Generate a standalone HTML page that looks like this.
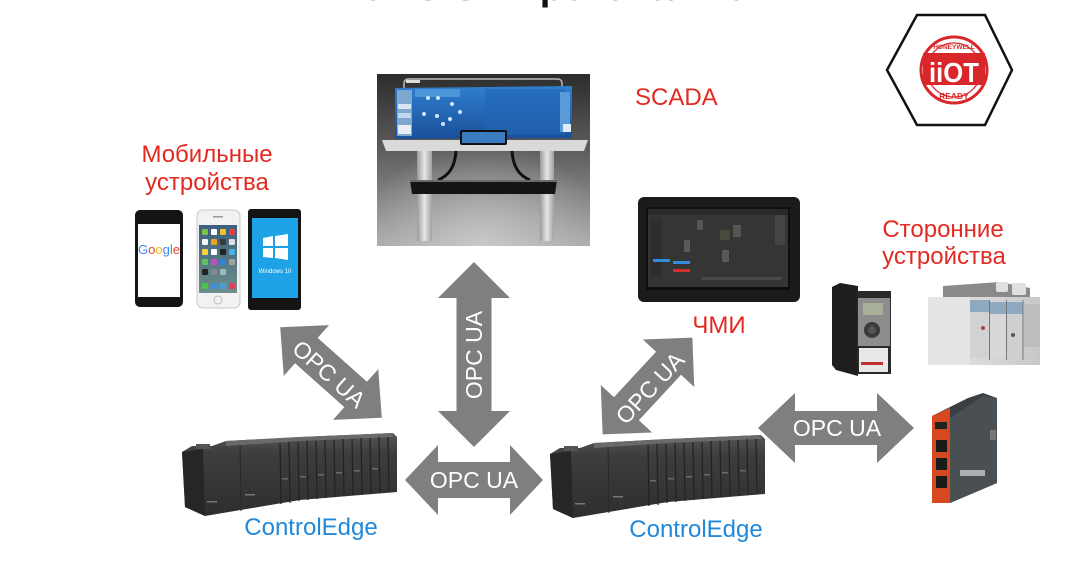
<!DOCTYPE html>
<html><head><meta charset="utf-8">
<style>
html,body{margin:0;padding:0;background:#fff;}
svg{display:block;}
text{font-family:"Liberation Sans",Arial,sans-serif;}
</style></head>
<body>
<svg width="1083" height="565" viewBox="0 0 1083 565" xmlns="http://www.w3.org/2000/svg">
<defs>
  <linearGradient id="scadaBg" x1="0" y1="0" x2="0" y2="1">
    <stop offset="0" stop-color="#2c2c2c"/>
    <stop offset="0.45" stop-color="#5e5e5e"/>
    <stop offset="1" stop-color="#a9a9a9"/>
  </linearGradient>
  <radialGradient id="scadaGlow" cx="0.5" cy="1" r="0.6">
    <stop offset="0" stop-color="#d0d0d0" stop-opacity="0.8"/>
    <stop offset="1" stop-color="#d0d0d0" stop-opacity="0"/>
  </radialGradient>
  <linearGradient id="screenBlue" x1="0" y1="0" x2="0" y2="1">
    <stop offset="0" stop-color="#2f7fcf"/>
    <stop offset="1" stop-color="#1a4f9a"/>
  </linearGradient>
  <linearGradient id="leg" x1="0" y1="0" x2="1" y2="0">
    <stop offset="0" stop-color="#9a9a9a"/>
    <stop offset="0.5" stop-color="#e6e6e6"/>
    <stop offset="1" stop-color="#a0a0a0"/>
  </linearGradient>
  <linearGradient id="ceFront" x1="0" y1="0" x2="0" y2="1">
    <stop offset="0" stop-color="#555"/>
    <stop offset="0.25" stop-color="#3d3d3d"/>
    <stop offset="1" stop-color="#2e2e2e"/>
  </linearGradient>
  <linearGradient id="iosScr" x1="0" y1="0" x2="0" y2="1">
    <stop offset="0" stop-color="#3b5f7d"/>
    <stop offset="1" stop-color="#6d8e8a"/>
  </linearGradient>
  <linearGradient id="plcBody" x1="0" y1="0" x2="1" y2="0">
    <stop offset="0" stop-color="#e8e8e8"/>
    <stop offset="1" stop-color="#c8c8c8"/>
  </linearGradient>
</defs>

<rect x="0" y="0" width="1083" height="565" fill="#fff"/>

<!-- Title (mostly cut off) -->
<text x="565" y="0" text-anchor="middle" font-size="36" font-weight="bold" fill="#111" textLength="414" lengthAdjust="spacingAndGlyphs">OPC UA протокол IIoT</text>

<!-- IIoT logo -->
<polygon points="887,70 917,15 985,15 1012,70 985,125 917,125" fill="#fff" stroke="#111" stroke-width="2.5"/>
<circle cx="954" cy="70" r="33" fill="#fff" stroke="#d9262b" stroke-width="3"/>
<circle cx="954" cy="70" r="27" fill="none" stroke="#d9262b" stroke-width="1.2"/>
<text x="954" y="49" text-anchor="middle" font-size="6.5" font-weight="bold" fill="#d9262b">HONEYWELL</text>
<rect x="923" y="53" width="62" height="32" fill="#d9262b"/>
<text x="954" y="82" text-anchor="middle" font-size="28" font-weight="bold" fill="#fff" textLength="50" lengthAdjust="spacingAndGlyphs">iiOT</text>
<text x="954" y="99" text-anchor="middle" font-size="8.5" font-weight="bold" fill="#d9262b">READY</text>

<!-- SCADA photo -->
<rect x="377" y="74" width="213" height="172" fill="url(#scadaBg)"/>
<rect x="377" y="74" width="213" height="172" fill="url(#scadaGlow)"/>
<rect x="404" y="79" width="158" height="12" rx="4" fill="none" stroke="#bdbdbd" stroke-width="1.5"/>
<rect x="406" y="80" width="14" height="3" fill="#ddd"/>
<polygon points="395,88 572,86 572,138 395,139" fill="url(#screenBlue)"/>
<rect x="397" y="90" width="15" height="46" fill="#7fa8d0"/>
<rect x="398" y="104" width="13" height="5" fill="#d8e6f2"/>
<rect x="398" y="113" width="13" height="5" fill="#c0d6ea"/>
<rect x="398" y="125" width="13" height="9" fill="#e8eef4"/>
<rect x="415" y="89" width="45" height="8" fill="#4d94d8"/>
<rect x="485" y="89" width="80" height="46" fill="#2266b4" opacity="0.6"/>
<g fill="#cfe6fa">
  <circle cx="428" cy="98" r="2"/><circle cx="438" cy="98" r="2"/><circle cx="452" cy="104" r="2"/>
  <circle cx="424" cy="114" r="2"/><circle cx="437" cy="116" r="2"/><circle cx="450" cy="119" r="2"/>
  <circle cx="460" cy="112" r="2"/><circle cx="443" cy="124" r="2"/>
</g>
<rect x="560" y="92" width="10" height="40" fill="#5a9ad8"/>
<rect x="563" y="124" width="8" height="8" fill="#e0ecf6"/>
<polygon points="382,140 588,140 584,151 386,151" fill="#d9d9d9"/>
<rect x="460" y="130" width="47" height="15" rx="2" fill="#111"/>
<rect x="462" y="132" width="43" height="11" fill="#3b7bc0"/>
<rect x="417" y="151" width="15" height="90" fill="url(#leg)"/>
<rect x="540" y="151" width="14" height="90" fill="url(#leg)"/>
<path d="M456 151 C455 168 448 176 438 180" stroke="#111" stroke-width="3" fill="none"/>
<path d="M512 151 C513 168 520 176 530 180" stroke="#111" stroke-width="3" fill="none"/>
<polygon points="410,180 557,180 555,194 412,194" fill="#141414"/>
<rect x="410" y="180" width="147" height="2" fill="#6a6a6a"/>

<!-- SCADA label -->
<text x="635" y="105" font-size="24" fill="#e32a22">SCADA</text>

<!-- Mobile label -->
<text x="207" y="162" text-anchor="middle" font-size="24" fill="#e32a22">Мобильные</text>
<text x="207" y="190" text-anchor="middle" font-size="24" fill="#e32a22">устройства</text>

<!-- Phone 1 Google -->
<rect x="135" y="210" width="48" height="97" rx="5" fill="#141414"/>
<rect x="138" y="224" width="42" height="73" fill="#fff"/>
<text x="159" y="254" text-anchor="middle" font-size="13"><tspan fill="#4285f4">G</tspan><tspan fill="#ea4335">o</tspan><tspan fill="#fbbc05">o</tspan><tspan fill="#4285f4">g</tspan><tspan fill="#34a853">l</tspan><tspan fill="#ea4335">e</tspan></text>

<!-- Phone 2 iPhone -->
<rect x="197" y="210" width="43" height="98" rx="6" fill="#f2f2f2" stroke="#c8c8c8" stroke-width="1"/>
<rect x="199" y="225" width="38" height="68" fill="url(#iosScr)"/>
<g>
  <rect x="202" y="229" width="6" height="6" rx="1" fill="#7cc04a"/><rect x="211" y="229" width="6" height="6" rx="1" fill="#fff"/><rect x="220" y="229" width="6" height="6" rx="1" fill="#f0c030"/><rect x="229" y="229" width="6" height="6" rx="1" fill="#e04040"/>
  <rect x="202" y="239" width="6" height="6" rx="1" fill="#f5f5f5"/><rect x="211" y="239" width="6" height="6" rx="1" fill="#f0a020"/><rect x="220" y="239" width="6" height="6" rx="1" fill="#3a3a3a"/><rect x="229" y="239" width="6" height="6" rx="1" fill="#e0e0e0"/>
  <rect x="202" y="249" width="6" height="6" rx="1" fill="#f8d040"/><rect x="211" y="249" width="6" height="6" rx="1" fill="#fff"/><rect x="220" y="249" width="6" height="6" rx="1" fill="#222"/><rect x="229" y="249" width="6" height="6" rx="1" fill="#50b0e0"/>
  <rect x="202" y="259" width="6" height="6" rx="1" fill="#60c060"/><rect x="211" y="259" width="6" height="6" rx="1" fill="#c050c0"/><rect x="220" y="259" width="6" height="6" rx="1" fill="#3080e0"/><rect x="229" y="259" width="6" height="6" rx="1" fill="#a0a0a0"/>
  <rect x="202" y="269" width="6" height="6" rx="1" fill="#222"/><rect x="211" y="269" width="6" height="6" rx="1" fill="#888"/><rect x="220" y="269" width="6" height="6" rx="1" fill="#9bb"/>
  <rect x="202" y="283" width="6" height="6" rx="1" fill="#50c050"/><rect x="211" y="283" width="6" height="6" rx="1" fill="#4090e0"/><rect x="220" y="283" width="6" height="6" rx="1" fill="#40a0e0"/><rect x="229" y="283" width="6" height="6" rx="1" fill="#e04060"/>
</g>
<circle cx="218" cy="300" r="4" fill="none" stroke="#bbb" stroke-width="1"/>
<rect x="213" y="216" width="10" height="1.5" fill="#999"/>

<!-- Phone 3 Windows -->
<rect x="248" y="209" width="53" height="101" rx="3" fill="#141414"/>
<rect x="252" y="218" width="46" height="80" fill="#1ea2e6"/>
<polygon points="263,238 273,236 273,246 263,246" fill="#fff"/>
<polygon points="275,236 288,234 288,246 275,246" fill="#fff"/>
<polygon points="263,248 273,248 273,258 263,257" fill="#fff"/>
<polygon points="275,248 288,248 288,260 275,258" fill="#fff"/>
<text x="275" y="273" text-anchor="middle" font-size="6" fill="#fff">Windows 10</text>

<!-- HMI -->
<rect x="638" y="197" width="162" height="105" rx="6" fill="#1b1b1b"/>
<rect x="646" y="207" width="144" height="83" fill="#0e0e0e"/>
<rect x="648" y="209" width="140" height="78" fill="#353535"/>
<rect x="648" y="209" width="140" height="6" fill="#2a2a2a"/>
<rect x="650" y="217" width="12" height="60" fill="#2e2e2e"/>
<rect x="697" y="220" width="6" height="10" fill="#555"/>
<rect x="720" y="230" width="10" height="10" fill="#4a4a3a"/>
<rect x="733" y="225" width="8" height="12" fill="#555"/>
<rect x="684" y="240" width="6" height="12" fill="#5a5a5a"/>
<rect x="722" y="250" width="7" height="12" fill="#5a5a5a"/>
<rect x="775" y="215" width="10" height="30" fill="#444"/>
<rect x="653" y="259" width="17" height="3" fill="#2e8de0"/>
<rect x="673" y="261" width="17" height="3" fill="#2e8de0"/>
<rect x="673" y="269" width="17" height="3" fill="#d03030"/>
<rect x="702" y="277" width="80" height="3" fill="#4a4a4a"/>
<text x="719" y="333" text-anchor="middle" font-size="24" fill="#e32a22">ЧМИ</text>

<!-- Third party label -->
<text x="943" y="237" text-anchor="middle" font-size="24" fill="#e32a22">Сторонние</text>
<text x="944" y="264" text-anchor="middle" font-size="24" fill="#e32a22">устройства</text>

<!-- VFD drive -->
<polygon points="832,287 840,283 858,286 858,376 836,370 832,365" fill="#1e1e1e"/>
<rect x="857" y="291" width="34" height="83" fill="#2a2a2a"/>
<rect x="858" y="298" width="32" height="48" fill="#8d8d8d"/>
<rect x="863" y="303" width="20" height="12" fill="#a8b09a"/>
<circle cx="872" cy="330" r="8" fill="#3a3a3a"/>
<circle cx="872" cy="330" r="4" fill="#555"/>
<rect x="859" y="348" width="29" height="24" fill="#e8e8e8"/>
<rect x="861" y="362" width="22" height="3" fill="#c03030"/>

<!-- PLC -->
<polygon points="943,286 1000,282 1030,288 1030,300 943,300" fill="#8a8a8a"/>
<rect x="996" y="282" width="12" height="10" rx="2" fill="#e0e0e0"/>
<rect x="1012" y="283" width="14" height="12" rx="2" fill="#e0e0e0"/>
<rect x="928" y="297" width="112" height="68" fill="url(#plcBody)"/>
<rect x="928" y="297" width="42" height="68" fill="#e4e4e4"/>
<rect x="970" y="300" width="19" height="58" fill="#d2d2d2"/>
<rect x="970" y="300" width="19" height="12" fill="#8fa9c0"/>
<rect x="990" y="302" width="16" height="56" fill="#d8d8d8"/>
<rect x="990" y="302" width="16" height="12" fill="#8fa9c0"/>
<rect x="1007" y="302" width="16" height="56" fill="#cfcfcf"/>
<rect x="1007" y="302" width="16" height="12" fill="#8fa9c0"/>
<line x1="989.5" y1="300" x2="989.5" y2="360" stroke="#777" stroke-width="1"/>
<line x1="1006.5" y1="300" x2="1006.5" y2="360" stroke="#777" stroke-width="1"/>
<line x1="1023" y1="300" x2="1023" y2="360" stroke="#777" stroke-width="1"/>
<rect x="1024" y="304" width="16" height="43" fill="#bdbdbd"/>
<circle cx="983" cy="328" r="2" fill="#b04040"/>
<circle cx="1013" cy="335" r="2" fill="#555"/>

<!-- Gateway -->
<polygon points="932,416 968,398 983,393 997,398 997,483 950,503 932,503" fill="#3b3f43"/>
<polygon points="950,418 983,396 997,398 997,483 950,503" fill="#4a4f54"/>
<polygon points="932,416 950,408 950,503 932,503" fill="#d64820"/>
<rect x="935" y="422" width="12" height="7" fill="#222"/>
<rect x="936" y="440" width="11" height="12" fill="#1a1a1a"/>
<rect x="936" y="458" width="11" height="12" fill="#1a1a1a"/>
<rect x="936" y="476" width="11" height="12" fill="#1a1a1a"/>
<rect x="990" y="430" width="6" height="10" fill="#777"/>
<rect x="960" y="470" width="25" height="6" fill="#eee" opacity="0.6"/>

<!-- ControlEdge units -->
<g id="ce">
  <polygon points="182,452 192,446 212,446 226,441 300,437 393,433 397,437 397,492 300,500 205,516 185,507" fill="url(#ceFront)"/>
  <polygon points="182,452 203,449 205,516 185,507" fill="#262626"/>
  <rect x="196" y="444" width="14" height="5" fill="#555"/>
  <polygon points="226,441 300,437 393,433 393,437 300,441 226,446" fill="#6a6a6a"/>
  <g stroke="#222" stroke-width="1.2">
    <line x1="280" y1="443" x2="281" y2="504"/>
    <line x1="289" y1="442" x2="290" y2="503"/>
    <line x1="298" y1="442" x2="299" y2="501"/>
    <line x1="307" y1="441" x2="308" y2="500"/>
    <line x1="316" y1="441" x2="317" y2="499"/>
    <line x1="325" y1="440" x2="326" y2="498"/>
    <line x1="334" y1="440" x2="335" y2="497"/>
    <line x1="343" y1="439" x2="344" y2="496"/>
    <line x1="352" y1="439" x2="353" y2="495"/>
    <line x1="361" y1="438" x2="362" y2="494"/>
    <line x1="370" y1="438" x2="371" y2="493"/>
    <line x1="379" y1="437" x2="380" y2="493"/>
    <line x1="388" y1="437" x2="389" y2="492"/>
  </g>
  <g fill="#6a6a6a">
    <rect x="282" y="478" width="6" height="1.5"/><rect x="300" y="476" width="6" height="1.5"/><rect x="318" y="474" width="6" height="1.5"/><rect x="336" y="472" width="6" height="1.5"/><rect x="354" y="470" width="6" height="1.5"/><rect x="372" y="468" width="6" height="1.5"/>
  </g>
  <rect x="207" y="501" width="10" height="1.5" fill="#777"/>
  <rect x="245" y="494" width="10" height="1.5" fill="#777"/>
  <line x1="240" y1="445" x2="241" y2="511" stroke="#2a2a2a" stroke-width="1"/>
</g>
<use href="#ce" transform="translate(368,2)"/>

<text x="311" y="535" text-anchor="middle" font-size="24" fill="#2288d8">ControlEdge</text>
<text x="696" y="537" text-anchor="middle" font-size="24" fill="#2288d8">ControlEdge</text>

<!-- Arrows -->
<g fill="#7f7f7f">
  <polygon transform="translate(474,480)" points="-69,0 -36,-35 -36,-18 36,-18 36,-35 69,0 36,35 36,18 -36,18 -36,35"/>
  <polygon transform="translate(836,428)" points="-78,0 -41,-35 -41,-17 41,-17 41,-35 78,0 41,35 41,17 -41,17 -41,35"/>
  <polygon transform="translate(474,354.5) rotate(90)" points="-92.5,0 -56.5,-36 -56.5,-17.5 56.5,-17.5 56.5,-36 92.5,0 56.5,36 56.5,17.5 -56.5,17.5 -56.5,36"/>
  <polygon transform="translate(331,372.5) rotate(41.7)" points="-68,0 -33,-34 -33,-17 33,-17 33,-34 68,0 33,34 33,17 -33,17 -33,34"/>
  <polygon transform="translate(647.5,386) rotate(-47.2)" points="-66,0 -31,-35 -31,-17 31,-17 31,-35 66,0 31,35 31,17 -31,17 -31,35"/>
</g>
<g fill="#fff" font-size="23" text-anchor="middle">
  <text x="474" y="480" dy="8">OPC UA</text>
  <text x="837" y="428" dy="8">OPC UA</text>
  <text transform="translate(474,355) rotate(-90)" x="0" y="0" dy="8">OPC UA</text>
  <text transform="translate(329,374) rotate(41.7)" x="0" y="0" dy="8">OPC UA</text>
  <text transform="translate(650,388) rotate(-47.2)" x="0" y="0" dy="8">OPC UA</text>
</g>
</svg>
</body></html>
